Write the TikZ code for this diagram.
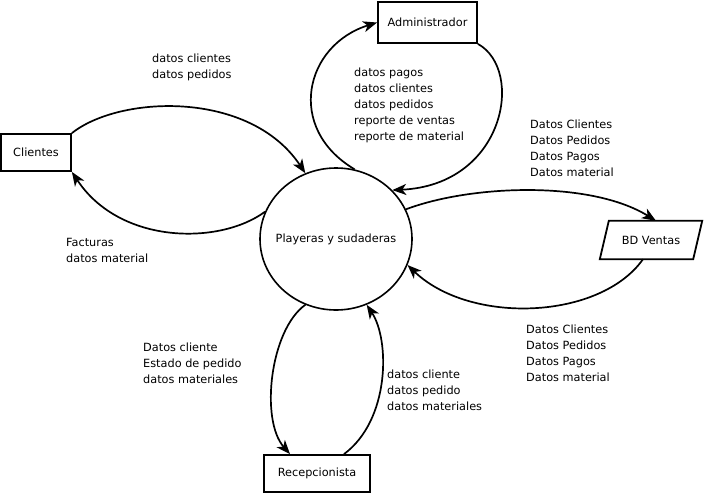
\documentclass[tikz,border=0pt]{standalone}
\usepackage{fontspec}
\setmainfont{DejaVu Sans}
\usetikzlibrary{arrows.meta,shapes.geometric,calc}
\begin{document}
\begin{tikzpicture}[x=1pt,y=1pt,
  font=\fontsize{11.3}{16}\selectfont,
  box/.style={draw,line width=1.8pt,inner sep=0pt},
  flow/.style={line width=1.7pt,-{Stealth[length=14pt,width=11pt,inset=4pt]}},
  lbl/.style={anchor=north west,align=left,inner sep=0pt}]
\fill[white] (0,0) rectangle (704,-493);
\useasboundingbox (0,0) rectangle (704,-493);
\node[box,minimum width=70pt,minimum height=37pt] (cli) at (36,-152.5) {Clientes};
\node[box,minimum width=99pt,minimum height=41pt] (adm) at (427.5,-22.5) {Administrador};
\node[box,minimum width=106pt,minimum height=37pt] (rec) at (317,-473.5) {Recepcionista};
\node[draw,ellipse,line width=1.6pt,minimum width=152pt,minimum height=142pt,inner xsep=-20pt,inner ysep=0pt] (pc) at (336,-239) {Playeras y sudaderas};
\node[minimum width=102pt,minimum height=38pt,inner sep=0pt] (bd) at (651,-240) {BD Ventas};
\draw[line width=1.8pt] ([xshift=9pt]bd.north west) -- (bd.north east) -- ([xshift=-9pt]bd.south east) -- (bd.south west) -- cycle;

\draw[flow] (cli.north east) .. controls (120,-95) and (250,-90) .. (pc.115);
\draw[flow] (pc.159) .. controls (220,-245) and (120,-245) .. (cli.south east);
\draw[flow] (pc.75) .. controls (285,-128) and (305,-45) .. (adm.west);
\draw[flow] (adm.south east) .. controls (525,-70) and (505,-185) .. (pc.41);
\draw[flow] (pc.23) .. controls (470,-185) and (590,-180) .. ([xshift=5pt]bd.north);
\draw[flow] ([xshift=-8pt]bd.south) .. controls (600,-320) and (470,-325) .. (pc.-20);
\draw[flow] (pc.-115) .. controls (270,-330) and (260,-420) .. ([xshift=-27pt]rec.north);
\draw[flow] ([xshift=27pt]rec.north) .. controls (390,-420) and (390,-340) .. (pc.-65);

\node[lbl] (l1) at (152,-54) {datos clientes\\datos pedidos};
\node[lbl] (l2) at (66,-238) {Facturas\\datos material};
\node[lbl] (l3) at (354,-68) {datos pagos\\datos clientes\\datos pedidos\\reporte de ventas\\reporte de material};
\node[lbl] (l4) at (530,-120) {Datos Clientes\\Datos Pedidos\\Datos Pagos\\Datos material};
\node[lbl] (l5) at (526,-325) {Datos Clientes\\Datos Pedidos\\Datos Pagos\\Datos material};
\node[lbl] (l6) at (143,-343) {Datos cliente\\Estado de pedido\\datos materiales};
\node[lbl] (l7) at (387,-370) {datos cliente\\datos pedido\\datos materiales};
\end{tikzpicture}
\end{document}
